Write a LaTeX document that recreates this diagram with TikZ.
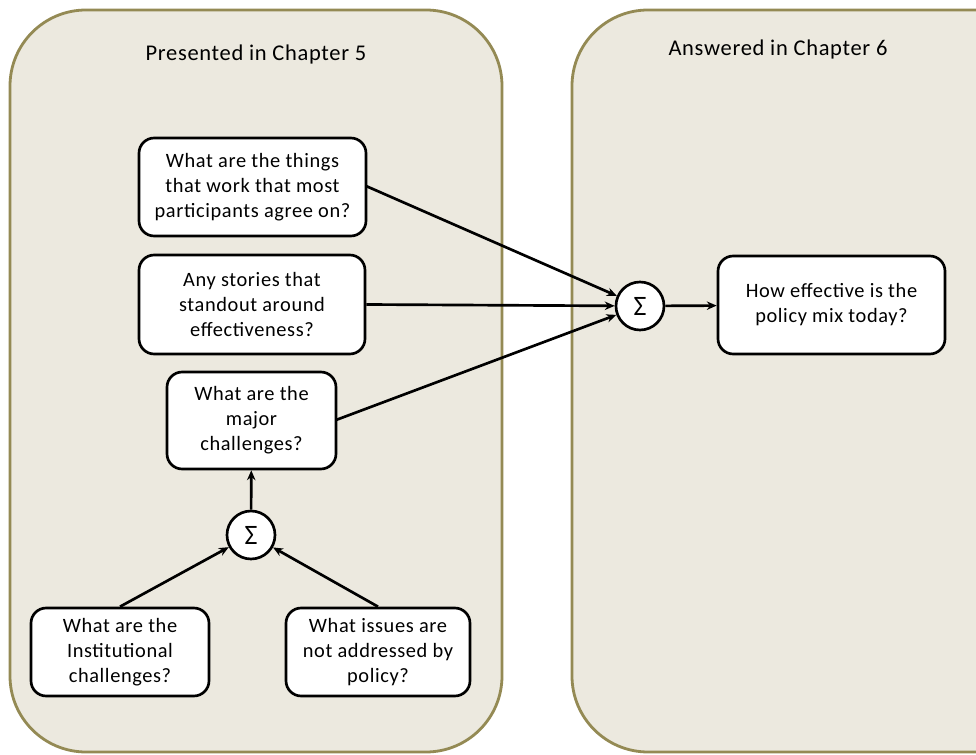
\documentclass[tikz,border=0pt]{standalone}
\usepackage{fontspec}
\setmainfont[LetterSpace=3]{Carlito}
\usetikzlibrary{arrows.meta}
\definecolor{panelfill}{HTML}{ECE9DF}
\definecolor{paneldraw}{HTML}{948A54}
\newcommand\pxu{0.025cm}
\tikzset{
	panel/.style={draw=paneldraw, fill=panelfill, line width=2pt, rounded corners=1.9cm},
	title/.style={font=\fontsize{16}{19}\selectfont},
	qbox/.style={draw, fill=white, line width=1.9pt, rounded corners=0.38cm, align=center,
		font=\fontsize{14.5}{17.7}\selectfont, inner sep=0pt},
	sumnode/.style={circle, draw, fill=white, line width=1.9pt, minimum size=48*\pxu,
		inner sep=0pt, font=\fontsize{20}{22}\selectfont},
	link/.style={-{Stealth[length=7pt,width=6pt]}, line width=1.9pt}
}
\begin{document}
\begin{tikzpicture}[x=\pxu, y=-\pxu, line join=round]
		\useasboundingbox (0,0) rectangle (976,755);
		\clip (0,0) rectangle (976,755);
		\fill[white] (0,0) rectangle (976,755);
		\draw[panel] (10,10) rectangle (502,752);
		\draw[panel] (572,10) rectangle (1060,752);
		\node[title] (left) at (256,55) {Presented in Chapter 5};
		\node[title] (right) at (778,50) {Answered in Chapter 6};
		% questions
		\node[qbox, minimum width=227*\pxu, minimum height=98*\pxu] (things) at (252.5,187)
		{What are the things\\that work that most\\participants agree on?};
		\node[qbox, minimum width=226*\pxu, minimum height=99*\pxu] (stories) at (252,304.5)
		{Any stories that\\standout around\\effectiveness?};
		\node[qbox, minimum width=169*\pxu, minimum height=97*\pxu] (major) at (251.5,420.5)
		{What are the\\major\\challenges?};
		\node[qbox, minimum width=178*\pxu, minimum height=88*\pxu] (inst) at (120,652)
		{What are the\\Institutional\\challenges?};
		\node[qbox, minimum width=184*\pxu, minimum height=88*\pxu] (issues) at (378,652)
		{What issues are\\not addressed by\\policy?};
		\node[qbox, minimum width=227*\pxu, minimum height=98*\pxu] (mix) at (831.5,305)
		{How effective is the\\policy mix today?};
		% sums
		\node[sumnode] (sumtop) at (640,306) {Σ};
		\node[sumnode] (sumlow) at (251,535) {Σ};
		\path
		(366,186) coordinate (T)
		(336,420) coordinate (M);
		\draw[link] (T) -- (sumtop);
		\draw[link] (stories.east) -- (sumtop);
		\draw[link] (M) -- (sumtop);
		\draw[link] (sumtop) -- (mix);
		\draw[link] (sumlow) -- (major);
		\foreach \q in {inst, issues}
		\draw[link] (\q.north) -- (sumlow);
	\end{tikzpicture}
\end{document}
